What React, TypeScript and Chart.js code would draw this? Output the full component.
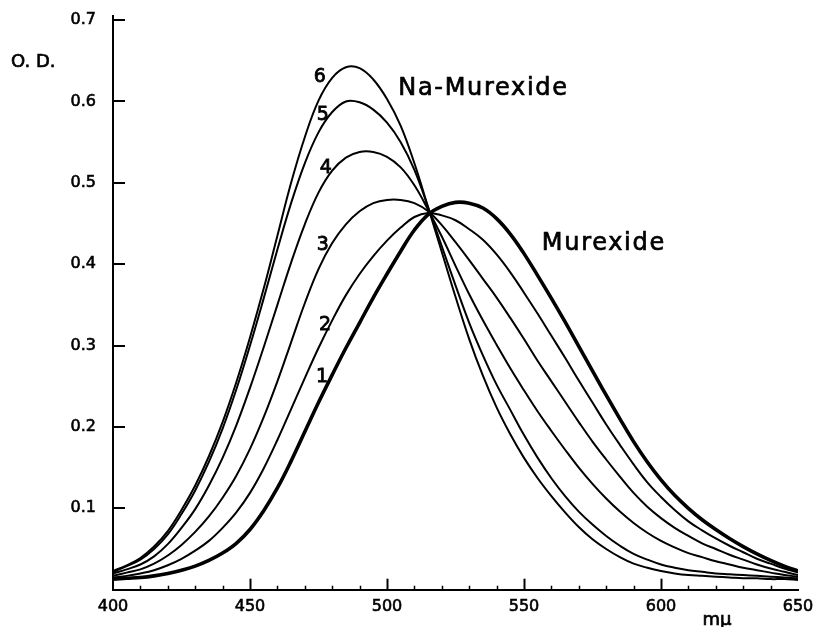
import { useEffect, useRef } from "react";
import { Chart, registerables } from "chart.js";

Chart.register(...registerables);

// Wavelength grid (mμ)
const wavelengths = [
  400, 405, 410, 415, 420, 425, 430, 435, 440, 445,
  450, 455, 460, 465, 470, 475, 480, 485, 490, 495,
  500, 505, 510, 515, 520, 525, 530, 535, 540, 545,
  550, 555, 560, 565, 570, 575, 580, 585, 590, 595,
  600, 605, 610, 615, 620, 625, 630, 635, 640, 645, 650,
];

// Curve 1: Murexide
const curve1 = [
  0.013, 0.014, 0.015, 0.017, 0.020, 0.024, 0.029, 0.036, 0.045, 0.057,
  0.074, 0.097, 0.125, 0.158, 0.194, 0.230, 0.264, 0.297, 0.328, 0.359,
  0.388, 0.416, 0.442, 0.461, 0.471, 0.476, 0.475, 0.469, 0.456, 0.437,
  0.413, 0.386, 0.358, 0.329, 0.299, 0.269, 0.239, 0.210, 0.182, 0.157,
  0.135, 0.116, 0.100, 0.086, 0.074, 0.063, 0.053, 0.044, 0.036, 0.029, 0.023,
];

const curve2 = [
  0.015, 0.017, 0.020, 0.024, 0.030, 0.038, 0.048, 0.060, 0.076, 0.095,
  0.119, 0.149, 0.184, 0.222, 0.260, 0.297, 0.331, 0.362, 0.388, 0.410,
  0.429, 0.445, 0.458, 0.463, 0.460, 0.454, 0.443, 0.430, 0.412, 0.390,
  0.365, 0.339, 0.312, 0.285, 0.257, 0.230, 0.203, 0.178, 0.154, 0.132,
  0.114, 0.098, 0.084, 0.073, 0.063, 0.054, 0.046, 0.038, 0.032, 0.026, 0.021,
];

const curve3 = [
  0.017, 0.021, 0.025, 0.032, 0.042, 0.055, 0.071, 0.090, 0.113, 0.140,
  0.173, 0.212, 0.256, 0.304, 0.352, 0.394, 0.426, 0.449, 0.465, 0.475,
  0.479, 0.479, 0.475, 0.465, 0.448, 0.427, 0.405, 0.382, 0.359, 0.334,
  0.308, 0.281, 0.256, 0.231, 0.206, 0.182, 0.160, 0.139, 0.119, 0.102,
  0.088, 0.076, 0.066, 0.057, 0.050, 0.043, 0.037, 0.031, 0.026, 0.022, 0.018,
];

const curve4 = [
  0.020, 0.025, 0.031, 0.041, 0.056, 0.076, 0.099, 0.128, 0.162, 0.202,
  0.248, 0.298, 0.350, 0.402, 0.449, 0.488, 0.515, 0.531, 0.538, 0.538,
  0.532, 0.519, 0.497, 0.467, 0.434, 0.398, 0.363, 0.331, 0.301, 0.272,
  0.245, 0.219, 0.195, 0.172, 0.150, 0.130, 0.112, 0.096, 0.082, 0.070,
  0.060, 0.052, 0.045, 0.040, 0.035, 0.031, 0.027, 0.024, 0.021, 0.018, 0.016,
];

const curve5 = [
  0.022, 0.029, 0.037, 0.050, 0.068, 0.093, 0.122, 0.157, 0.198, 0.246,
  0.300, 0.358, 0.418, 0.475, 0.524, 0.562, 0.587, 0.600, 0.599, 0.590,
  0.574, 0.550, 0.516, 0.470, 0.422, 0.374, 0.328, 0.288, 0.252, 0.221,
  0.190, 0.162, 0.137, 0.115, 0.096, 0.080, 0.066, 0.054, 0.044, 0.037,
  0.031, 0.027, 0.024, 0.022, 0.020, 0.019, 0.018, 0.017, 0.016, 0.015, 0.014,
];

// Curve 6: Na-Murexide
const curve6 = [
  0.023, 0.030, 0.039, 0.053, 0.072, 0.098, 0.128, 0.164, 0.206, 0.255,
  0.310, 0.370, 0.435, 0.500, 0.556, 0.601, 0.629, 0.642, 0.641, 0.627,
  0.603, 0.570, 0.524, 0.470, 0.415, 0.360, 0.308, 0.263, 0.224, 0.191,
  0.162, 0.137, 0.115, 0.095, 0.077, 0.062, 0.050, 0.040, 0.032, 0.027,
  0.023, 0.020, 0.018, 0.017, 0.016, 0.015, 0.014, 0.014, 0.013, 0.013, 0.012,
];

const seriesValues = [curve1, curve2, curve3, curve4, curve5, curve6];
const seriesNumbers = ["1", "2", "3", "4", "5", "6"];

const xTickValues = [400, 450, 500, 550, 600, 650];
const yTickValues = [0.1, 0.2, 0.3, 0.4, 0.5, 0.6, 0.7];

const FONT = "'DejaVu Sans', sans-serif";

// Plot frame inside the canvas
const FRAME = { left: 113, top: 16, right: 798, bottom: 589.7 };

// Number labels beside the rising flanks, in data coordinates
const numberLabelSpots = [
  { x: 476.3, y: 0.2555 },
  { x: 477.4, y: 0.3194 },
  { x: 476.6, y: 0.4178 },
  { x: 477.7, y: 0.5125 },
  { x: 476.6, y: 0.5778 },
  { x: 475.5, y: 0.6245 },
];

// fill plus a thin outline, for a slightly heavier typeface
function heavyText(ctx: CanvasRenderingContext2D, text: string, x: number, y: number, weight: number) {
  ctx.fillText(text, x, y);
  ctx.lineWidth = weight;
  ctx.strokeText(text, x, y);
}

const annotations = {
  id: "annotations",
  afterDatasetsDraw(chart: any) {
    const { ctx, chartArea, scales } = chart;
    const xs = scales.x;
    const ys = scales.y;
    ctx.save();
    ctx.strokeStyle = "#000";
    ctx.fillStyle = "#000";

    // inward ticks on the wavelength axis
    for (let v = 410; v < 650; v += 10) {
      const px = Math.round(xs.getPixelForValue(v)) + 0.5;
      const major = v % 50 === 0;
      ctx.lineWidth = major ? 2 : 1.5;
      ctx.beginPath();
      ctx.moveTo(px, chartArea.bottom);
      ctx.lineTo(px, chartArea.bottom - (major ? 11 : 4));
      ctx.stroke();
    }
    // inward ticks on the O.D. axis
    ctx.lineWidth = 2;
    yTickValues.forEach((v) => {
      const py = Math.round(ys.getPixelForValue(v));
      ctx.beginPath();
      ctx.moveTo(chartArea.left, py);
      ctx.lineTo(chartArea.left + 12, py);
      ctx.stroke();
    });

    // curve numbers
    ctx.font = `19px ${FONT}`;
    ctx.textAlign = "center";
    ctx.textBaseline = "alphabetic";
    numberLabelSpots.forEach((p, i) => {
      heavyText(ctx, seriesNumbers[i], xs.getPixelForValue(p.x), ys.getPixelForValue(p.y), 0.8);
    });

    // substance names
    ctx.font = `24px ${FONT}`;
    ctx.textAlign = "left";
    (ctx as any).letterSpacing = "1.7px";
    heavyText(ctx, "Na-Murexide", xs.getPixelForValue(504.1), ys.getPixelForValue(0.6085), 0.7);
    heavyText(ctx, "Murexide", xs.getPixelForValue(556.5), ys.getPixelForValue(0.4178), 0.7);
    (ctx as any).letterSpacing = "0px";

    // axis titles
    ctx.font = `18px ${FONT}`;
    ctx.textAlign = "left";
    heavyText(ctx, "O. D.", chartArea.left - 102, ys.getPixelForValue(0.7) + 47, 0.7);
    ctx.textAlign = "center";
    heavyText(ctx, "mμ", xs.getPixelForValue(620.4), chartArea.bottom + 35, 0.7);
    ctx.restore();
  },
};

export default function App() {
  const canvasRef = useRef<HTMLCanvasElement | null>(null);

  useEffect(() => {
    const canvas = canvasRef.current;
    if (!canvas) return;

    const datasets = seriesValues.map((values, i) => ({
      label: seriesNumbers[i],
      data: values.map((y, j) => ({ x: wavelengths[j], y })),
      borderColor: "#000",
      borderWidth: i === 0 ? 3.6 : 2,
      pointRadius: 0,
      fill: false,
      tension: 0.4,
    }));

    const tickFont = { family: FONT, size: 16 };

    const chart = new Chart(canvas, {
      type: "line",
      data: { datasets },
      options: {
        responsive: false,
        animation: false,
        devicePixelRatio: 1,
        layout: { padding: { top: FRAME.top, right: 817 - FRAME.right, left: 0, bottom: 0 } },
        plugins: {
          legend: { display: false },
          tooltip: { enabled: false },
        },
        scales: {
          x: {
            type: "linear",
            min: 400,
            max: 650,
            grid: { display: false, drawTicks: false },
            border: { display: true, color: "#000", width: 2 },
            ticks: {
              color: "#000",
              font: tickFont,
              textStrokeColor: "#000",
              textStrokeWidth: 0.6,
              padding: 8,
              autoSkip: false,
              maxRotation: 0,
              callback: (v: any) => String(v),
            },
            afterBuildTicks: (s: any) => {
              s.ticks = xTickValues.map((value) => ({ value }));
            },
            afterFit: (s: any) => {
              s.height = 627 - FRAME.bottom;
              s.paddingLeft = 0;
              s.paddingRight = 0;
            },
          },
          y: {
            type: "linear",
            min: 0,
            max: 0.705,
            grid: { display: false, drawTicks: false },
            border: { display: true, color: "#000", width: 2 },
            ticks: {
              color: "#000",
              font: tickFont,
              textStrokeColor: "#000",
              textStrokeWidth: 0.6,
              padding: 17,
              autoSkip: false,
              callback: (v: any) => Number(v).toFixed(1),
            },
            afterBuildTicks: (s: any) => {
              s.ticks = yTickValues.map((value) => ({ value }));
            },
            afterFit: (s: any) => {
              s.width = FRAME.left;
              s.paddingTop = 0;
              s.paddingBottom = 0;
            },
          },
        },
      },
      plugins: [annotations],
    });

    // nudge the layout padding so the plot frame lands where intended
    const pad: any = (chart.options.layout as any).padding;
    const area = chart.chartArea;
    const dTop = FRAME.top - area.top;
    const dRight = area.right - FRAME.right;
    if (Math.abs(dTop) > 0.5 || Math.abs(dRight) > 0.5) {
      pad.top += dTop;
      pad.right += dRight;
      chart.update();
    }

    return () => chart.destroy();
  }, []);

  return (
    <div style={{ position: "fixed", left: 0, top: 0, width: 817, height: 627, background: "#fff" }}>
      <canvas ref={canvasRef} width={817} height={627} />
    </div>
  );
}
